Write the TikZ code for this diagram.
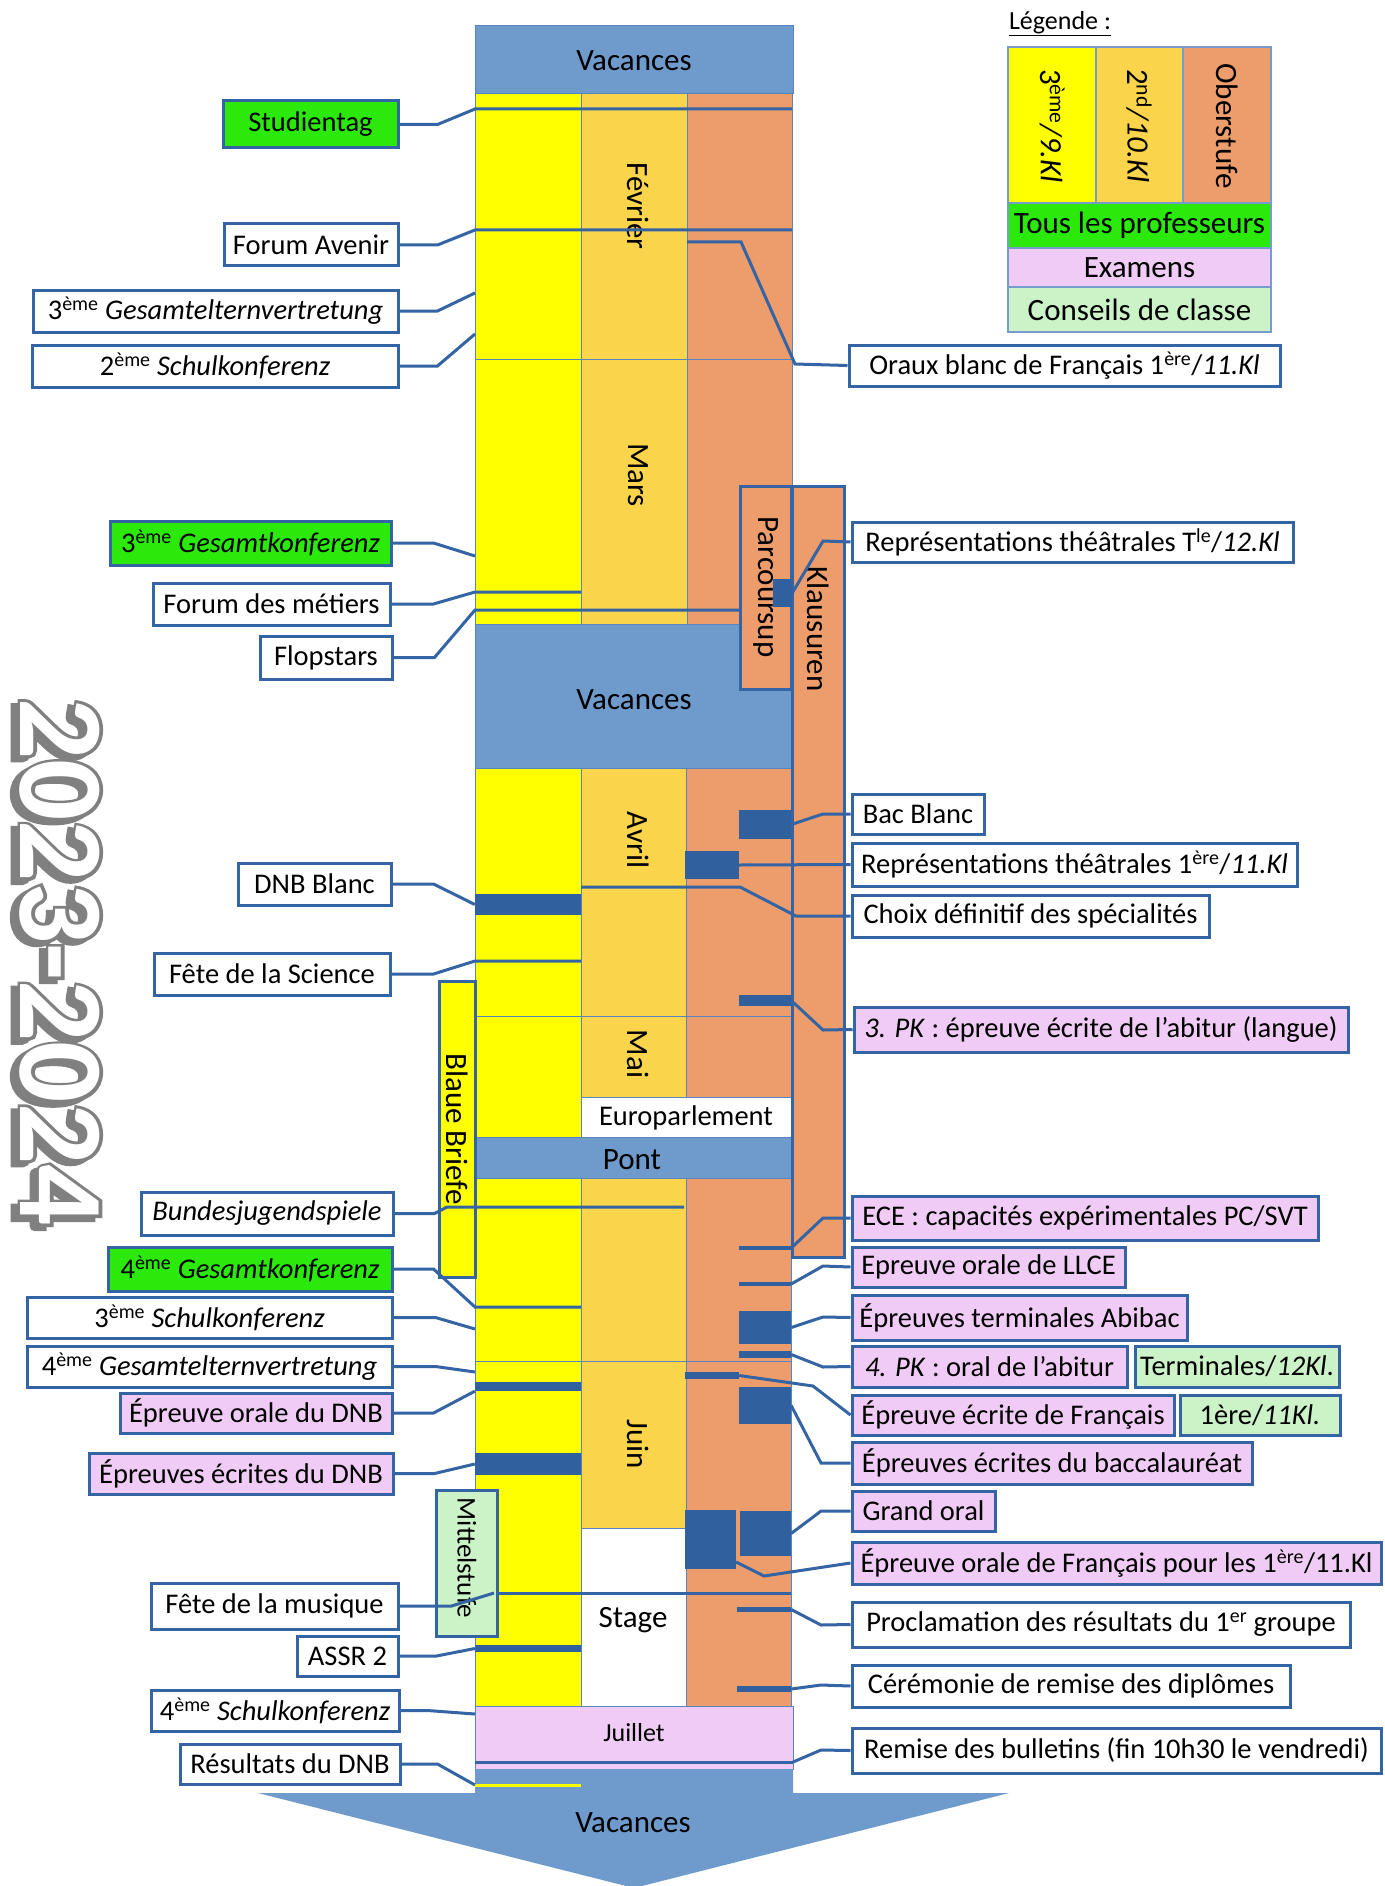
\documentclass[tikz,border=0pt]{standalone}
\usepackage{fontspec}
\setmainfont{Carlito}
\newfontfamily\yrthick{Carlito}[BoldFeatures={FakeBold=5}]
\definecolor{vac}{RGB}{111,155,204}
\definecolor{yel}{RGB}{255,255,0}
\definecolor{oy}{RGB}{250,213,75}
\definecolor{ora}{RGB}{236,157,107}
\definecolor{tgr}{RGB}{44,233,12}
\definecolor{pnk}{RGB}{240,203,245}
\definecolor{lgr}{RGB}{204,242,200}
\definecolor{bord}{RGB}{52,100,164}
\definecolor{dark}{RGB}{48,97,158}
\definecolor{cellb}{RGB}{88,133,192}
\definecolor{legb}{RGB}{120,155,205}
\definecolor{yrgray}{RGB}{128,128,128}
\newcommand\lfont{\fontsize{28.5}{32}\selectfont}
\newcommand\mfont{\fontsize{31}{34}\selectfont}
\newcommand\jfont{\fontsize{26}{30}\selectfont}
\newcommand\mitfont{\fontsize{27}{30}\selectfont}
\newcommand\yfont{\fontsize{121}{130}\selectfont\bfseries}
\newcommand\ythfont{\yrthick\fontsize{121}{130}\selectfont\bfseries}
\newcommand\mkbox[7]{\node[#6, minimum width={#4pt-#2pt}, minimum height={#5pt-#3pt}] (#1) at ({(#2+#4)/2},{(#3+#5)/2}) {#7};}
\tikzset{
  lbl/.style={draw=bord, line width=3pt, fill=white, inner sep=0pt, font=\lfont, text=black},
  lblg/.style={lbl, fill=tgr},
  lblp/.style={lbl, fill=pnk},
  lblc/.style={lbl, fill=lgr},
  cell/.style={draw=cellb, line width=1pt},
  legcell/.style={draw=legb, line width=1.2pt, inner sep=0pt, font=\mfont},
  blk/.style={fill=dark, draw=none, inner sep=0pt},
  conn/.style={draw=bord, line width=3pt},
  ovl/.style={draw=bord, line width=3pt, fill=ora, inner sep=0pt},
  mth/.style={font=\mfont, rotate=-90, inner sep=0pt},
  ttl/.style={font=\mfont, inner sep=0pt},
  yr/.style={rotate=-90, inner sep=0pt},
}
\begin{document}
\begin{tikzpicture}[x=1pt,y=-1pt]
\useasboundingbox (0,0) rectangle (1384,1886);
\fill[white] (0,0) rectangle (1384,1886);

% ---------- calendar column ----------
\filldraw[cell, fill=vac] (475,26) rectangle (793,94);
\filldraw[cell, fill=yel] (475,94) rectangle (581,359);
\filldraw[cell, fill=oy]  (581,94) rectangle (687,359);
\filldraw[cell, fill=ora] (687,94) rectangle (792,359);
\filldraw[cell, fill=yel] (475,359) rectangle (581,624);
\filldraw[cell, fill=oy]  (581,359) rectangle (687,624);
\filldraw[cell, fill=ora] (687,359) rectangle (792,624);
\filldraw[cell, fill=vac] (475,624) rectangle (792,768);
\filldraw[cell, fill=yel] (475,768) rectangle (581,1016);
\filldraw[cell, fill=oy]  (581,768) rectangle (686,1016);
\filldraw[cell, fill=ora] (686,768) rectangle (791,1016);
\filldraw[cell, fill=yel] (475,1016) rectangle (581,1137);
\filldraw[cell, fill=oy]  (581,1016) rectangle (686,1097);
\filldraw[cell, fill=ora] (686,1016) rectangle (791,1097);
\filldraw[cell, fill=white] (581,1097) rectangle (791,1137);
\filldraw[cell, fill=vac] (475,1137) rectangle (791,1178);
\filldraw[cell, fill=yel] (475,1178) rectangle (581,1361);
\filldraw[cell, fill=oy]  (581,1178) rectangle (686,1361);
\filldraw[cell, fill=ora] (686,1178) rectangle (791,1361);
\filldraw[cell, fill=yel] (475,1361) rectangle (581,1706);
\filldraw[cell, fill=oy]  (581,1361) rectangle (686,1528);
\filldraw[cell, fill=white] (581,1528) rectangle (686,1706);
\filldraw[cell, fill=ora] (686,1361) rectangle (791,1706);
\filldraw[cell, fill=pnk] (475,1706) rectangle (793,1769);
\fill[vac] (475,1769) -- (793,1769) -- (793,1793) -- (1009,1793) -- (634,1888) -- (258,1793) -- (475,1793) -- cycle;

% month / period labels
\node[ttl] (vac1) at (634,61) {Vacances};
\node[mth] (feb) at (638,206) {Février};
\node[mth] (mar) at (638,475) {Mars};
\node[ttl] (vac2) at (634,700) {Vacances};
\node[mth] (avr) at (638,840) {Avril};
\node[mth] (mai) at (638,1054) {Mai};
\node[font=\lfont, inner sep=0pt] (euro) at (686,1118) {Europarlement};
\node[ttl] (pont) at (632,1160) {Pont};
\node[mth] (juin) at (638,1444) {Juin};
\node[ttl] (stage) at (633,1620) {Stage};
\node[font=\jfont, inner sep=0pt] (juil) at (634,1733) {Juillet};
\node[ttl] (vac3) at (633,1823) {Vacances};

% lines under overlays
\draw[conn] (475,1593) -- (791,1593);
\draw[conn] (475,1762) -- (793,1762);
\draw[yel, line width=3pt] (475,1785) -- (581,1785);

% ---------- overlay boxes ----------
\mkbox{parc}{740}{486}{791}{689}{ovl}{}
\mkbox{klaus}{792}{486}{844}{1257}{ovl}{}
\node[mth] (parct) at (766,587) {Parcoursup};
\node[mth] (klaust) at (818,629) {Klausuren};
\mkbox{bb}{439}{981}{475}{1277}{ovl, fill=yel}{}
\node[mth] (bbt) at (457,1129) {Blaue Briefe};
\mkbox{mit}{436}{1490}{497}{1636}{ovl, fill=lgr}{}
\node[mth, font=\mitfont] (mitt) at (467,1558) {Mittelstufe};

% ---------- event blocks ----------
\mkbox{bTle}{773}{579}{792}{607}{blk}{}
\mkbox{bBac}{739}{810}{791}{839}{blk}{}
\mkbox{bRep}{685}{851}{739}{879}{blk}{}
\mkbox{bDNBb}{475}{894}{581}{915}{blk}{}
\mkbox{bPKa}{739}{995}{791}{1006}{blk}{}
\mkbox{bECE}{739}{1246}{791}{1250}{blk}{}
\mkbox{bLLCE}{739}{1282}{791}{1286}{blk}{}
\mkbox{bAbi}{739}{1311}{791}{1344}{blk}{}
\mkbox{bPKb}{739}{1351}{791}{1358}{blk}{}
\mkbox{bDNBo}{475}{1382}{581}{1391}{blk}{}
\mkbox{bEcrF}{685}{1372}{739}{1379}{blk}{}
\mkbox{bBacE}{739}{1387}{791}{1424}{blk}{}
\mkbox{bDNBe}{475}{1453}{581}{1475}{blk}{}
\mkbox{bGO}{740}{1511}{791}{1556}{blk}{}
\mkbox{bOrF}{685}{1510}{736}{1569}{blk}{}
\mkbox{bASSR}{475}{1645}{581}{1652}{blk}{}
\mkbox{bProc}{737}{1607}{791}{1612}{blk}{}
\mkbox{bCer}{737}{1686}{791}{1692}{blk}{}

% ---------- left labels ----------
\mkbox{stud}{223}{101}{398}{148}{lblg}{Studientag}
\mkbox{fav}{224}{224}{398}{266}{lbl}{Forum Avenir}
\mkbox{gev3}{33}{290}{398}{332}{lbl}{3\textsuperscript{ème} \textit{Gesamtelternvertretung}}
\mkbox{sk2}{32}{345}{398}{387}{lbl}{2\textsuperscript{ème} \textit{Schulkonferenz}}
\mkbox{gk3}{110}{521}{391}{565}{lblg}{3\textsuperscript{ème} \textit{Gesamtkonferenz}}
\mkbox{fdm}{153}{583}{390}{625}{lbl}{Forum des métiers}
\mkbox{flop}{260}{636}{392}{679}{lbl}{Flopstars}
\mkbox{dnbb}{238}{863}{391}{905}{lbl}{DNB Blanc}
\mkbox{fds}{154}{953}{390}{995}{lbl}{Fête de la Science}
\mkbox{bjs}{141}{1192}{393}{1235}{lbl}{\textit{Bundesjugendspiele}}
\mkbox{gk4}{108}{1247}{392}{1291}{lblg}{4\textsuperscript{ème} \textit{Gesamtkonferenz}}
\mkbox{sk3}{27}{1297}{392}{1338}{lbl}{3\textsuperscript{ème} \textit{Schulkonferenz}}
\mkbox{gev4}{27}{1346}{392}{1387}{lbl}{4\textsuperscript{ème} \textit{Gesamtelternvertretung}}
\mkbox{dnbo}{120}{1393}{392}{1433}{lblp}{Épreuve orale du DNB}
\mkbox{dnbe}{89}{1453}{393}{1494}{lblp}{Épreuves écrites du DNB}
\mkbox{fdmu}{151}{1583}{398}{1629}{lbl}{Fête de la musique}
\mkbox{assr}{297}{1636}{398}{1676}{lbl}{ASSR 2}
\mkbox{sk4}{151}{1690}{399}{1731}{lbl}{4\textsuperscript{ème} \textit{Schulkonferenz}}
\mkbox{rdnb}{180}{1744}{400}{1784}{lbl}{Résultats du DNB}

% ---------- right labels ----------
\mkbox{oraux}{849}{345}{1280}{386}{lbl}{Oraux blanc de Français 1\textsuperscript{ère}/\textit{11.Kl}}
\mkbox{reptle}{852}{522}{1293}{562}{lbl}{Représentations théâtrales T\textsuperscript{le}/\textit{12.Kl}}
\mkbox{bac}{852}{794}{984}{834}{lbl}{Bac Blanc}
\mkbox{rep}{852}{843}{1297}{886}{lbl}{Représentations théâtrales 1\textsuperscript{ère}/\textit{11.Kl}}
\mkbox{choix}{852}{895}{1209}{937}{lbl}{Choix définitif des spécialités}
\mkbox{pka}{854}{1007}{1348}{1052}{lblp}{\textit{3. PK} : épreuve écrite de l’abitur (langue)}
\mkbox{ece}{852}{1196}{1318}{1240}{lblp}{ECE : capacités expérimentales PC/SVT}
\mkbox{llce}{852}{1247}{1125}{1287}{lblp}{Epreuve orale de LLCE}
\mkbox{abi}{852}{1295}{1187}{1340}{lblp}{Épreuves terminales Abibac}
\mkbox{pkb}{852}{1346}{1127}{1387}{lblp}{\textit{4. PK} : oral de l’abitur}
\mkbox{term}{1135}{1346}{1339}{1387}{lblc}{Terminales/\textit{12Kl}.}
\mkbox{ecrf}{852}{1395}{1174}{1435}{lblp}{Épreuve écrite de Français}
\mkbox{prem}{1180}{1395}{1340}{1435}{lblc}{1ère/\textit{11Kl.}}
\mkbox{bace}{852}{1442}{1252}{1484}{lblp}{Épreuves écrites du baccalauréat}
\mkbox{go}{852}{1491}{995}{1531}{lblp}{Grand oral}
\mkbox{orf}{852}{1542}{1381}{1584}{lblp}{Épreuve orale de Français pour les 1\textsuperscript{ère}/11.Kl}
\mkbox{proc}{852}{1602}{1350}{1647}{lbl}{Proclamation des résultats du 1\textsuperscript{er} groupe}
\mkbox{cer}{852}{1665}{1290}{1707}{lbl}{Cérémonie de remise des diplômes}
\mkbox{rem}{852}{1728}{1381}{1773}{lbl}{Remise des bulletins (fin 10h30 le vendredi)}

% ---------- connector end points ----------
\coordinate (cStud) at (475,109);
\coordinate (cFav) at (475,230);
\coordinate (cGev3) at (475,293);
\coordinate (cSk2) at (475,334);
\coordinate (cGk3) at (475,556);
\coordinate (cFdm) at (475,592);
\coordinate (cFlop) at (475,610);
\coordinate (cFds) at (475,961);
\coordinate (cBjs) at (447,1207);
\coordinate (cGk4) at (475,1307);
\coordinate (cSk3) at (475,1329);
\coordinate (cGev4) at (475,1372);
\coordinate (cFdmu) at (494,1593);
\coordinate (cSk4) at (475,1714);
\coordinate (cRdnb) at (475,1785);
\coordinate (cOraux) at (687,242);
\coordinate (cChoix) at (581,887);
\coordinate (cOrF) at (736,1562);
\coordinate (cRem) at (793,1762);

% ---------- left connectors ----------
\draw[conn] (stud.east) -- ++(38,0) -- (cStud) -- ++(317,0);
\draw[conn] (fav.east) -- ++(38,0) -- (cFav) -- ++(317,0);
\draw[conn] (gev3.east) -- ++(38,0) -- (cGev3);
\draw[conn] (sk2.east) -- ++(38,0) -- (cSk2);
\draw[conn] (gk3.east) -- ++(41,0) -- (cGk3);
\draw[conn] (fdm.east) -- ++(42,0) -- (cFdm) -- ++(106,0);
\draw[conn] (flop.east) -- ++(41,0) -- (cFlop) -- ++(265,0);
\draw[conn] (dnbb.east) -- ++(41,0) -- (bDNBb.west);
\draw[conn] (fds.east) -- ++(42,0) -- (cFds) -- ++(106,0);
\draw[conn] (bjs.east) -- ++(40,0) -- (cBjs) -- ++(237,0);
\draw[conn] (gk4.east) -- ++(40,0) -- (cGk4) -- ++(106,0);
\draw[conn] (sk3.east) -- ++(42,0) -- (cSk3);
\draw[conn] (gev4.east) -- ++(42,0) -- (cGev4);
\draw[conn] (dnbo.east) -- ++(40,0) -- (bDNBo.south west);
\draw[conn] (dnbe.east) -- ++(40,0) -- (bDNBe.west);
\draw[conn] (fdmu.east) -- ++(52,0) -- (cFdmu);
\draw[conn] (assr.east) -- ++(37,0) -- (bASSR.west);
\draw[conn] (sk4.east) -- ++(27,0) -- (cSk4);
\draw[conn] (rdnb.east) -- ++(36,0) -- (cRdnb);

% ---------- right connectors ----------
\draw[conn] (cOraux) -- (741,242) -- (795,364) -- (oraux.west);
\draw[conn] (bTle.east) -- (823,541) -- (reptle.west);
\draw[conn] (bBac.east) -- (823,814) -- (bac.west);
\draw[conn] (bRep.east) -- (rep.west);
\draw[conn] (cChoix) -- (740,887) -- (796,916) -- (choix.west);
\draw[conn] (bPKa.east) -- (823,1030) -- (pka.west);
\draw[conn] (bECE.east) -- (823,1218) -- (ece.west);
\draw[conn] (bLLCE.east) -- (823,1266) -- (llce.west);
\draw[conn] (bAbi.east) -- (823,1317) -- (abi.west);
\draw[conn] (bPKb.east) -- (823,1367) -- (pkb.west);
\draw[conn] (bEcrF.east) -- (813,1386) -- (ecrf.west);
\draw[conn] (bBacE.east) -- (821,1463) -- (bace.west);
\draw[conn] (bGO.east) -- (821,1511) -- (go.west);
\draw[conn] (cOrF) -- (764,1576) -- (orf.west);
\draw[conn] (bProc.east) -- (821,1625) -- (proc.west);
\draw[conn] (bCer.east) -- (821,1685) -- (cer.west);
\draw[conn] (cRem) -- (821,1750) -- (rem.west);

% ---------- legend ----------
\node[font=\jfont, inner sep=0pt] (legt) at (1060,24) {\underline{Légende :}};
\mkbox{lg1}{1008}{47}{1096}{203}{legcell, fill=yel}{}
\mkbox{lg2}{1096}{47}{1183}{203}{legcell, fill=oy}{}
\mkbox{lg3}{1183}{47}{1271}{203}{legcell, fill=ora}{}
\node[mth] (lg1t) at (1052,126) {3\textsuperscript{ème}\textit{/9.Kl}};
\node[mth] (lg2t) at (1139,126) {2\textsuperscript{nd}\textit{/10.Kl}};
\node[mth] (lg3t) at (1227,126) {Oberstufe};
\mkbox{lg4}{1008}{203}{1271}{248}{legcell, fill=tgr}{Tous les professeurs}
\mkbox{lg5}{1008}{248}{1271}{287}{legcell, fill=pnk}{Examens}
\mkbox{lg6}{1008}{287}{1271}{332}{legcell, fill=lgr}{Conseils de classe}

% ---------- year ----------
\node[yr, font=\ythfont, text=yrgray] (yrsh) at (53,966) {2023-2024};
\node[yr, font=\ythfont, text=yrgray] (yrol) at (60,962) {2023-2024};
\node[yr, font=\yfont, text=white] (yr) at (60,962) {2023-2024};
\end{tikzpicture}
\end{document}
